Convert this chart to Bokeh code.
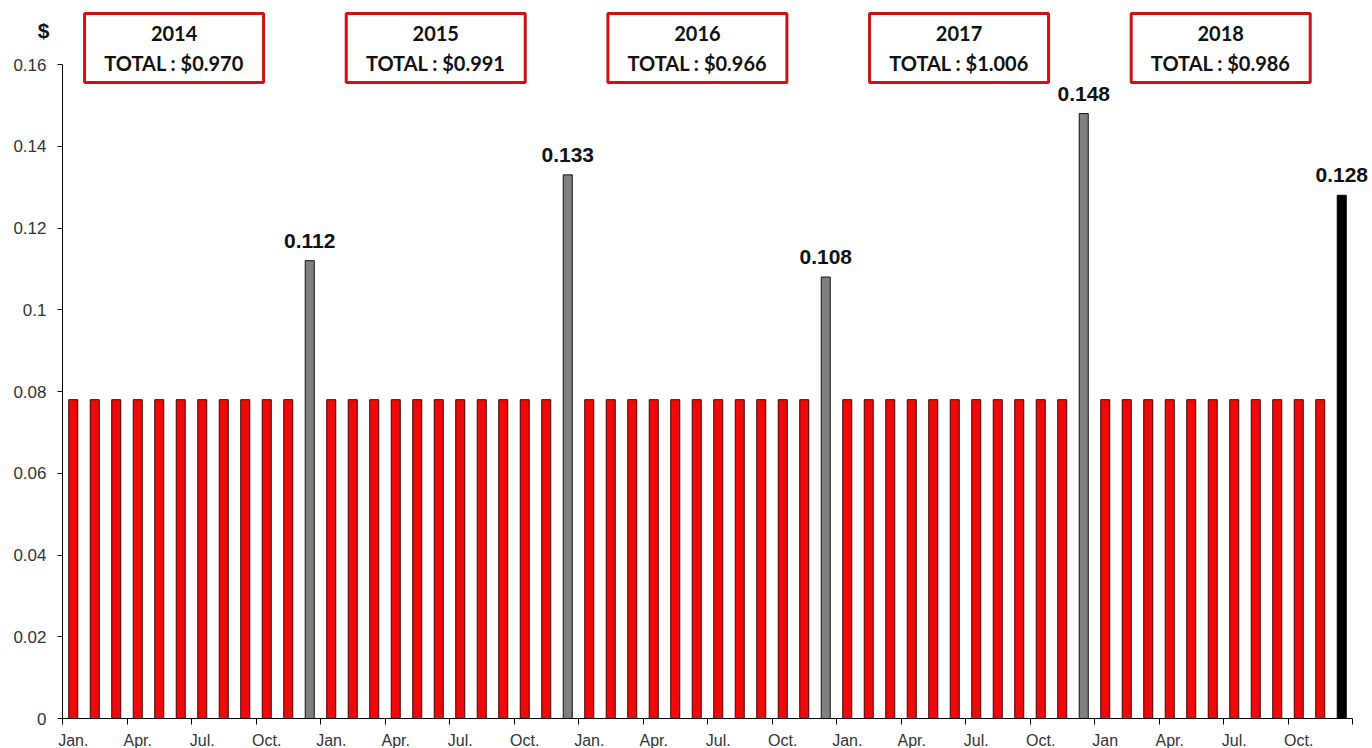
from bokeh.plotting import figure
from bokeh.models import (ColumnDataSource, FixedTicker, LabelSet, Label, Range1d)
from bokeh.core.properties import value
from bokeh.embed import file_html
from bokeh.resources import INLINE

# ---------------- data ----------------
years = ["2014", "2015", "2016", "2017", "2018"]
year_totals = ["$0.970", "$0.991", "$0.966", "$1.006", "$0.986"]
monthly_regular = [0.078] * 11
december_values = [0.112, 0.133, 0.108, 0.148, 0.128]
x_tick_labels = ["Jan.", "Apr.", "Jul.", "Oct.",
                 "Jan.", "Apr.", "Jul.", "Oct.",
                 "Jan.", "Apr.", "Jul.", "Oct.",
                 "Jan.", "Apr.", "Jul.", "Oct.",
                 "Jan", "Apr.", "Jul.", "Oct."]
y_ticks = [0, 0.02, 0.04, 0.06, 0.08, 0.1, 0.12, 0.14, 0.16]

# ---------------- build series ----------------
xs, tops, fills, lines = [], [], [], []
for yi, y in enumerate(years):
    vals = monthly_regular + [december_values[yi]]
    for m, v in enumerate(vals):
        xs.append(yi * 12 + m + 0.5)
        tops.append(v)
        if m < 11:
            fills.append("#EE0A0A"); lines.append("#4a0000")
        elif yi < len(years) - 1:
            fills.append("#808080"); lines.append("#111111")
        else:
            fills.append("#000000"); lines.append("#000000")

src = ColumnDataSource(dict(x=xs, top=tops, fill=fills, line=lines))
dec_src = ColumnDataSource(dict(
    x=[yi * 12 + 11.5 for yi in range(len(years))],
    y=december_values,
    t=["%.3f" % v for v in december_values],
))

S = 4087.5          # px per unit (layout only)
PX = 21.5           # px per month slot (layout only)
W, H = 1372, 748
LEFT, TOP, ZERO_Y = 62, 10, 718
YSTART = -(H - ZERO_Y) / S
YTOP = (ZERO_Y - TOP) / S
XSTART = -LEFT / PX
XEND = (W - LEFT) / PX

p = figure(width=W, height=H, output_backend="svg", toolbar_location=None,
           x_range=Range1d(XSTART, XEND), y_range=Range1d(YSTART, YTOP),
           min_border_left=0, min_border_right=0, min_border_top=TOP,
           min_border_bottom=0)
p.grid.visible = False
p.outline_line_color = None
p.background_fill_color = "white"

p.vbar(x="x", top="top", bottom=0, width=0.42, fill_color="fill",
       line_color="line", line_width=1, source=src)

# value labels for December bars
p.add_layout(LabelSet(x="x", y="y", text="t", source=dec_src,
                      text_align="center", text_baseline="bottom",
                      y_offset=13, text_font=value("Liberation Sans"),
                      text_font_style="bold", text_font_size="21px",
                      text_color="#111111"))

# year boxes
box_w = 179 / PX
box_top = 0.16 + 51 / S
box_bot = 0.16 - 18 / S
centers = [5.19 + 12.17 * k for k in range(len(years))]
p.rect(x=centers, y=[(box_top + box_bot) / 2] * len(years), width=box_w,
       height=box_top - box_bot, fill_color="white", line_color="#D01010",
       line_width=3)
box_src = ColumnDataSource(dict(
    x=centers,
    y1=[0.16 + 31 / S] * len(years),
    y2=[0.16 + 2 / S] * len(years),
    yr=years,
    tot=["TOTAL : " + t for t in year_totals],
))
for col in ("y1", "y2"):
    p.add_layout(LabelSet(x="x", y=col, text="yr" if col == "y1" else "tot",
                          source=box_src, text_align="center",
                          text_baseline="middle", text_font=value("Lato"),
                          text_font_style="bold", text_font_size="20px",
                          text_color="#111111"))

# "$" unit label
p.add_layout(Label(x=-19 / PX, y=0.16 + 34 / S, text="$",
                   text_align="center", text_baseline="middle",
                   text_font="Liberation Sans", text_font_style="bold",
                   text_font_size="21px", text_color="#111111"))

# y axis, pinned at x = 0
p.yaxis.fixed_location = 0
p.yaxis.ticker = FixedTicker(ticks=y_ticks)
p.yaxis.bounds = (0, 0.16)
p.yaxis.major_label_overrides = {t: ("%g" % t) for t in y_ticks}
p.yaxis.major_tick_in = 0
p.yaxis.major_tick_out = 5
p.yaxis.minor_tick_line_color = None
p.yaxis.axis_line_color = "black"
p.yaxis.major_tick_line_color = "black"
p.yaxis.major_label_text_font = "Liberation Sans"
p.yaxis.major_label_text_font_size = "17px"
p.yaxis.major_label_text_color = "#333333"
p.yaxis.major_label_standoff = 11

# x axis pinned at y = 0: labels at first month of each quarter, ticks at quarter boundaries
label_pos = [3 * i + 0.5 for i in range(len(x_tick_labels))]
p.xaxis.fixed_location = 0
p.xaxis.ticker = FixedTicker(ticks=label_pos,
                             minor_ticks=[3 * i for i in range(21)])
p.xaxis.bounds = (0, 60)
p.xaxis.major_label_overrides = {pos: lab for pos, lab in zip(label_pos, x_tick_labels)}
p.xaxis.major_tick_in = 0
p.xaxis.major_tick_out = 0
p.xaxis.minor_tick_in = 0
p.xaxis.minor_tick_out = 6
p.xaxis.minor_tick_line_color = "black"
p.xaxis.axis_line_color = "black"
p.xaxis.major_label_text_font = "Liberation Sans"
p.xaxis.major_label_text_font_size = "16px"
p.xaxis.major_label_text_color = "#333333"
p.xaxis.major_label_standoff = 7

open("out.html", "w").write(file_html(p, INLINE))
